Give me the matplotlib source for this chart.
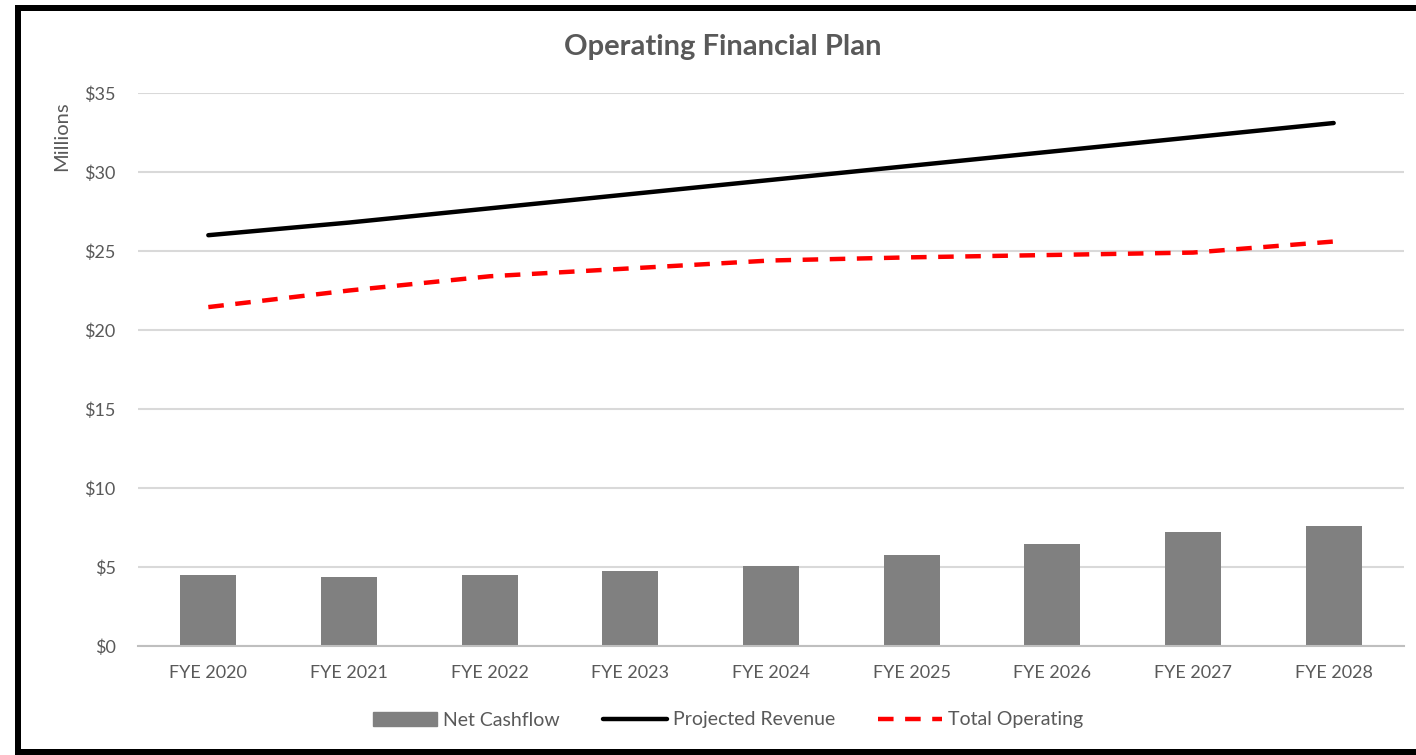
import matplotlib
matplotlib.use('Agg')
import matplotlib.pyplot as plt
import numpy as np
from matplotlib.lines import Line2D
from matplotlib.patches import Patch
from matplotlib.ticker import FuncFormatter

plt.rcParams['font.family'] = ['Lato', 'DejaVu Sans']

# data (millions)
years = ['FYE 2020', 'FYE 2021', 'FYE 2022', 'FYE 2023', 'FYE 2024',
         'FYE 2025', 'FYE 2026', 'FYE 2027', 'FYE 2028']
net_cashflow = [4.49, 4.37, 4.49, 4.75, 5.06, 5.76, 6.46, 7.22, 7.60]
projected_revenue = [26.0, 26.8, 27.7, 28.6, 29.5, 30.4, 31.3, 32.2, 33.1]
total_operating = [21.45, 22.5, 23.4, 23.9, 24.4, 24.6, 24.75, 24.9, 25.6]

TEXT = '#595959'
GRID = '#d9d9d9'

fig = plt.figure(figsize=(14.16, 7.55), dpi=100)
ax = fig.add_axes([138 / 1416, 1 - 646 / 755, 1266 / 1416, 553 / 755])

x = np.arange(len(years))
ax.bar(x, net_cashflow, width=0.4, color='#808080', zorder=2)
ax.plot(x, projected_revenue, color='black', lw=3.2, solid_capstyle='round', zorder=3)
ax.plot(x, total_operating, color='#ff0000', lw=3.2, dashes=(3.5, 2.6), zorder=3)

ax.set_xlim(-0.5, len(years) - 0.5)
ax.set_ylim(0, 35)
ax.set_yticks(np.arange(0, 36, 5))
ax.yaxis.set_major_formatter(FuncFormatter(lambda v, p: f'${v:.0f}'))
ax.set_xticks(x)
ax.set_xticklabels(years)
ax.tick_params(axis='both', length=0, labelsize=13, colors=TEXT)
ax.tick_params(axis='y', pad=16)
ax.tick_params(axis='x', pad=14)
ax.grid(axis='y', color=GRID, lw=1.5, zorder=0)
for s in ['top', 'right', 'left']:
    ax.spines[s].set_visible(False)
ax.spines['bottom'].set_color('#bfbfbf')
ax.spines['bottom'].set_linewidth(1.5)

fig.text(62 / 1416, 1 - 136 / 755, 'Millions', rotation=90, ha='center', va='center',
         fontsize=14.5, color=TEXT)
fig.text(723 / 1416, 1 - 47 / 755, 'Operating Financial Plan', ha='center', va='center',
         fontsize=21, fontweight='bold', color=TEXT)

handles = [Patch(color='#808080'),
           Line2D([0], [0], color='black', lw=3.2, solid_capstyle='round'),
           Line2D([0], [0], color='#ff0000', lw=3.2, dashes=(3.5, 2.6))]
labels = ['Net Cashflow', 'Projected Revenue', 'Total Operating']
leg = fig.legend(handles, labels, loc='center', bbox_to_anchor=(728 / 1416, 1 - 720 / 755),
                 ncol=3, frameon=False, fontsize=14, handlelength=3.3, columnspacing=2.2,
                 handletextpad=0.3)
for t in leg.get_texts():
    t.set_color(TEXT)

# black frame round the chart
lw = 6 * 72 / 100
fig.add_artist(Line2D([18 / 1416, 18 / 1416], [1 - 8 / 755, 1 - 752 / 755], color='black', lw=lw,
                      transform=fig.transFigure, solid_capstyle='projecting'))
fig.add_artist(Line2D([18 / 1416, 1.01], [1 - 8 / 755, 1 - 8 / 755], color='black', lw=lw,
                      transform=fig.transFigure, solid_capstyle='projecting'))
fig.add_artist(Line2D([18 / 1416, 1.01], [1 - 752 / 755, 1 - 752 / 755], color='black', lw=lw,
                      transform=fig.transFigure, solid_capstyle='projecting'))

fig.savefig('out.png', dpi=100, facecolor='white')
